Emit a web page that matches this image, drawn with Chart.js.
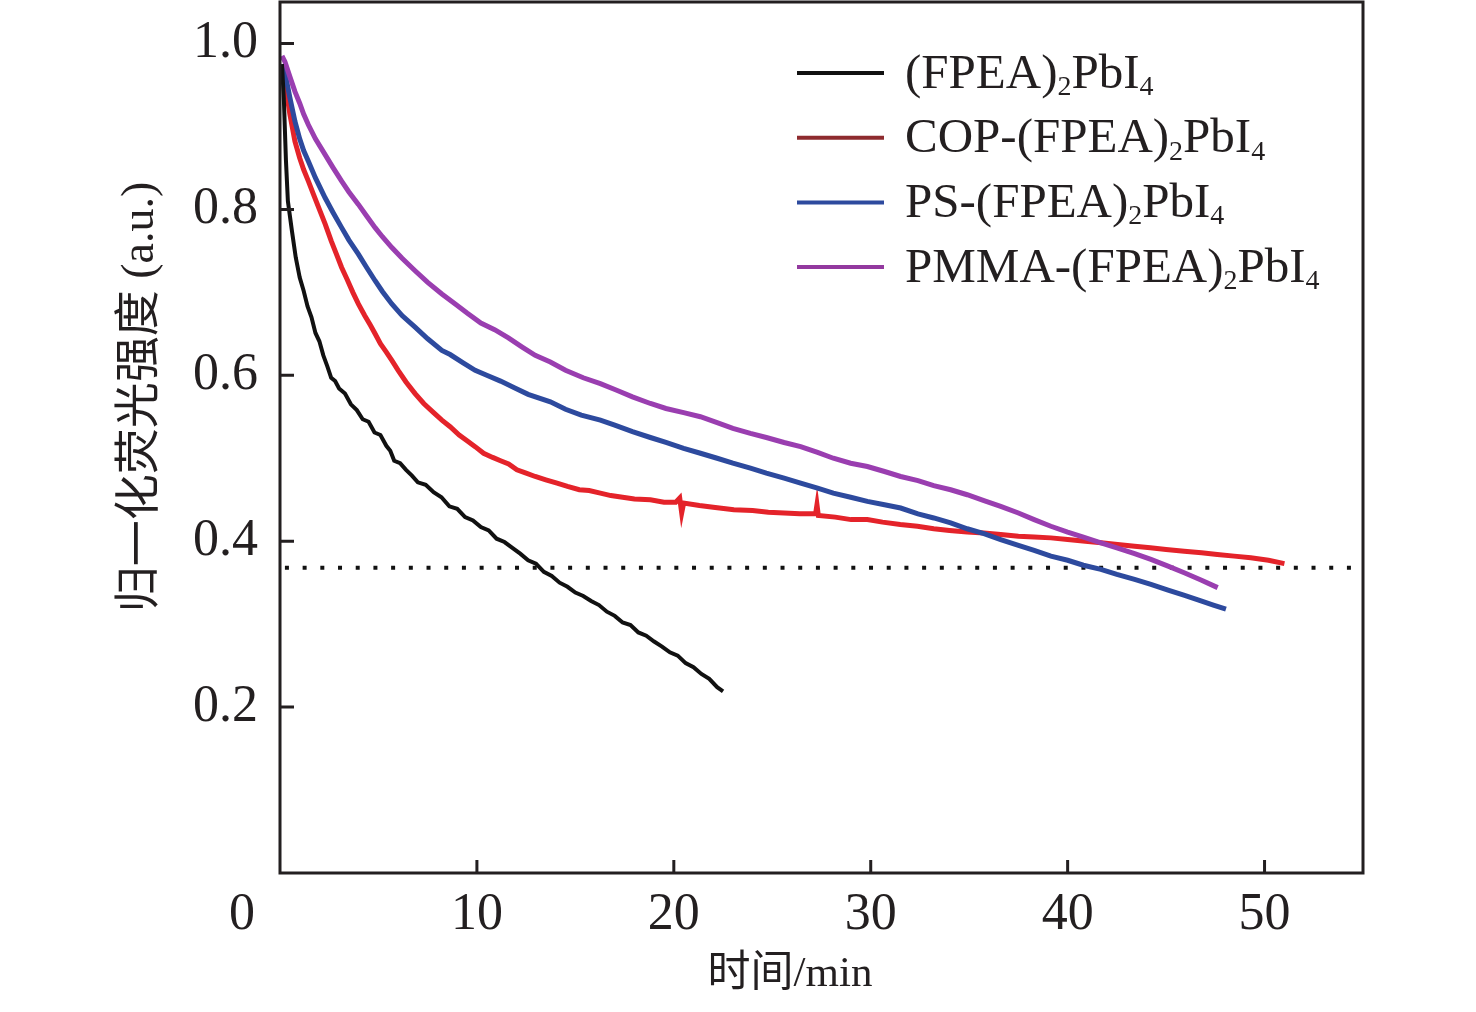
<!DOCTYPE html>
<html>
<head>
<meta charset="utf-8">
<script src="https://cdn.jsdelivr.net/npm/chart.js@4.4.1/dist/chart.umd.min.js"></script>
<style>
  html, body { margin: 0; padding: 0; background: #fff; }
  #wrap { width: 1476px; height: 1012px; }
</style>
</head>
<body>
<div id="wrap"><canvas id="chart"></canvas></div>
<script>
// time (min), normalized PL intensity
const seriesNames = ['(FPEA)_2PbI_4', 'COP-(FPEA)_2PbI_4', 'PS-(FPEA)_2PbI_4', 'PMMA-(FPEA)_2PbI_4'];

const blackPts = [
  [0.1,0.975],[0.2,0.93],[0.3,0.86],[0.4,0.81],[0.6,0.775],[0.8,0.742],[1.0,0.718],[1.2,0.702],
  [1.4,0.683],[1.6,0.670],[1.8,0.651],[2.0,0.641],[2.2,0.624],[2.4,0.611],[2.6,0.597],[2.8,0.593],
  [3.0,0.584],[3.3,0.578],[3.6,0.565],[3.9,0.558],[4.2,0.547],[4.5,0.544],[4.8,0.531],[5.1,0.528],
  [5.4,0.515],[5.6,0.509],[5.8,0.497],[6.1,0.494],[6.4,0.486],[6.7,0.479],[7.0,0.471],[7.4,0.468],
  [7.8,0.459],[8.2,0.453],[8.6,0.442],[9.0,0.439],[9.4,0.429],[9.8,0.425],[10.2,0.417],[10.6,0.413],
  [11.0,0.403],[11.4,0.399],[11.8,0.392],[12.2,0.385],[12.6,0.377],[13.0,0.373],[13.4,0.363],[13.8,0.358],
  [14.2,0.350],[14.6,0.345],[15.0,0.338],[15.4,0.334],[15.8,0.328],[16.2,0.323],[16.6,0.315],[17.0,0.310],
  [17.4,0.302],[17.8,0.299],[18.2,0.290],[18.6,0.286],[19.0,0.279],[19.4,0.273],[19.8,0.266],[20.2,0.262],
  [20.6,0.253],[21.0,0.248],[21.4,0.240],[21.8,0.234],[22.2,0.224],[22.5,0.219]
];

const copPts = [
  [0.1,0.97],[0.25,0.955],[0.5,0.915],[0.76,0.882],[1.0,0.862],[1.2,0.848],[1.44,0.834],[1.7,0.818],
  [2.0,0.800],[2.3,0.782],[2.6,0.762],[2.9,0.744],[3.13,0.730],[3.4,0.716],[3.7,0.700],[3.98,0.686],
  [4.3,0.672],[4.6,0.660],[4.83,0.650],[5.1,0.638],[5.4,0.628],[5.68,0.618],[6.0,0.606],[6.4,0.592],
  [6.86,0.578],[7.3,0.566],[7.8,0.555],[8.22,0.546],[8.64,0.538],[9.1,0.528],[9.5,0.521],[9.91,0.514],
  [10.34,0.506],[10.8,0.501],[11.2,0.497],[11.61,0.493],[12.03,0.486],[12.5,0.482],[12.96,0.478],[13.5,0.474],
  [14.07,0.470],[14.6,0.466],[15.2,0.462],[15.7,0.461],[16.27,0.458],[16.8,0.455],[17.4,0.453],[18.0,0.451],
  [18.81,0.450],[19.5,0.447],[20.1,0.447],[20.3,0.452],[20.4,0.434],[20.5,0.446],[21.3,0.443],[22.0,0.441],
  [23.05,0.438],[24.0,0.437],[24.8,0.435],[25.6,0.434],[26.4,0.433],[27.2,0.433],[27.27,0.444],[27.34,0.431],
  [28.2,0.429],[29.0,0.426],[29.83,0.426],[30.6,0.423],[31.5,0.420],[32.37,0.418],
  [33.2,0.415],[34.0,0.413],[34.9,0.411],[35.75,0.410],[36.6,0.408],[37.5,0.406],[38.3,0.405],
  [39.15,0.404],[40.0,0.402],[40.9,0.400],[41.7,0.398],[42.54,0.396],[43.4,0.394],[44.2,0.392],[45.0,0.390],
  [45.92,0.388],[46.8,0.386],[47.6,0.384],[48.46,0.382],[49.3,0.380],[50.2,0.377],[51.01,0.373]
];

const psPts = [
  [0.1,0.975],[0.25,0.965],[0.5,0.935],[0.76,0.906],[1.0,0.885],[1.2,0.871],[1.44,0.858],[1.8,0.838],
  [2.29,0.814],[2.7,0.796],[3.13,0.778],[3.5,0.763],[3.98,0.746],[4.4,0.730],[4.83,0.714],[5.2,0.701],
  [5.68,0.686],[6.2,0.672],[6.86,0.658],[7.5,0.644],[8.22,0.630],[8.64,0.625],[9.3,0.615],[9.91,0.606],
  [10.5,0.600],[11.2,0.593],[11.9,0.585],[12.6,0.577],[13.73,0.568],[14.5,0.559],[15.3,0.552],[16.27,0.546],
  [17.0,0.540],[17.9,0.532],[18.81,0.525],[19.6,0.519],[20.5,0.512],[21.35,0.506],[22.2,0.500],[23.0,0.494],
  [23.89,0.488],[24.7,0.482],[25.6,0.476],[26.44,0.470],[27.3,0.464],[28.1,0.458],[28.98,0.453],[29.83,0.448],
  [30.7,0.444],[31.52,0.440],[32.4,0.433],[33.2,0.428],[34.06,0.422],[34.9,0.415],[35.75,0.409],[36.6,0.402],
  [37.5,0.395],[38.3,0.389],[39.15,0.382],[40.0,0.377],[40.8,0.371],[41.69,0.366],[42.5,0.360],[43.4,0.354],
  [44.23,0.348],[45.1,0.341],[45.9,0.335],[46.77,0.328],[47.4,0.323],[48.04,0.318]
];

const pmmaPts = [
  [0.1,0.985],[0.25,0.978],[0.5,0.960],[0.76,0.942],[1.0,0.928],[1.2,0.915],[1.44,0.902],[1.8,0.885],
  [2.29,0.866],[2.7,0.850],[3.13,0.834],[3.5,0.821],[3.98,0.806],[4.4,0.792],[4.83,0.778],[5.2,0.767],
  [5.68,0.754],[6.2,0.741],[6.86,0.726],[7.5,0.712],[8.22,0.698],[8.9,0.686],[9.5,0.675],[10.2,0.663],
  [10.9,0.655],[11.6,0.645],[12.3,0.634],[12.96,0.624],[13.73,0.616],[14.5,0.606],[15.4,0.597],[16.27,0.590],
  [17.1,0.582],[17.9,0.574],[18.81,0.566],[19.6,0.560],[20.5,0.555],[21.35,0.550],[22.2,0.543],[23.0,0.536],
  [23.89,0.530],[24.7,0.525],[25.6,0.519],[26.44,0.514],[27.3,0.507],[28.1,0.500],[28.98,0.494],[29.83,0.490],
  [30.7,0.484],[31.52,0.478],[32.4,0.473],[33.2,0.467],[34.06,0.462],[34.9,0.456],[35.75,0.449],[36.6,0.442],
  [37.5,0.434],[38.3,0.426],[39.15,0.418],[40.0,0.411],[40.8,0.405],[41.69,0.398],[42.5,0.392],[43.4,0.385],
  [44.23,0.378],[45.1,0.370],[45.92,0.362],[46.8,0.353],[47.62,0.344]
];

// 1/e reference line
const refPts = [[0.25, 0.368], [54.6, 0.368]];

const xTicks = [10, 20, 30, 40, 50];
const yTicks = [0.2, 0.4, 0.6, 0.8, 1.0];
const xTitle = '时间/min';
const yTitle = '归一化荧光强度 (a.u.)';

const lineColors = ['#111111', '#e4232a', '#2d4a9e', '#9a3eb0'];
const legendColors = ['#111111', '#8e2b2e', '#2d4a9e', '#93399f'];
const FONT = "'Liberation Serif', 'Times New Roman', 'Noto Sans CJK SC', serif";
const INK = '#231f20';

const toXY = pts => pts.map(p => ({ x: p[0], y: p[1] }));

// frame, inward ticks, titles, legend with subscripts
const decorPlugin = {
  id: 'decor',
  afterDraw(chart) {
    const { ctx, chartArea: a, scales } = chart;
    ctx.save();
    ctx.strokeStyle = INK;
    ctx.lineWidth = 3;
    ctx.strokeRect(a.left, a.top, a.right - a.left, a.bottom - a.top);

    ctx.beginPath();
    xTicks.forEach(v => {
      const px = scales.x.getPixelForValue(v);
      ctx.moveTo(px, a.bottom);
      ctx.lineTo(px, a.bottom - 13);
    });
    yTicks.forEach(v => {
      const py = scales.y.getPixelForValue(v);
      ctx.moveTo(a.left, py);
      ctx.lineTo(a.left + 14, py);
    });
    ctx.stroke();

    ctx.fillStyle = INK;
    ctx.textBaseline = 'middle';
    ctx.textAlign = 'center';
    ctx.font = '52px ' + FONT;
    ctx.fillText('0', a.left - 38, a.bottom + 42.5);

    ctx.font = '43px ' + FONT;
    ctx.fillText(xTitle, 790, 975);

    ctx.save();
    ctx.translate(141, 397);
    ctx.rotate(-Math.PI / 2);
    ctx.font = '46px ' + FONT;
    ctx.fillText(yTitle, 0, 0);
    ctx.restore();

    // legend
    ctx.textAlign = 'left';
    ctx.textBaseline = 'alphabetic';
    seriesNames.forEach((name, i) => {
      const y = 73 + i * 64.7;
      ctx.strokeStyle = legendColors[i];
      ctx.lineWidth = 4;
      ctx.beginPath();
      ctx.moveTo(797, y);
      ctx.lineTo(884, y);
      ctx.stroke();
      let x = 905;
      name.split(/(_\d)/).forEach(part => {
        if (!part) return;
        if (part[0] === '_') {
          ctx.font = '28px ' + FONT;
          ctx.fillText(part.slice(1), x, y + 22);
          x += ctx.measureText(part.slice(1)).width;
        } else {
          ctx.font = '49px ' + FONT;
          ctx.fillText(part, x, y + 14.5);
          x += ctx.measureText(part).width;
        }
      });
    });
    ctx.restore();
  }
};

const curves = [blackPts, copPts, psPts, pmmaPts];
const datasets = curves.map((pts, i) => ({
  label: seriesNames[i],
  data: toXY(pts),
  borderColor: lineColors[i],
  borderWidth: i === 0 ? 4 : 5,
  pointRadius: 0,
  tension: 0,
  order: [1, 4, 3, 2][i]
}));
datasets.push({
  label: '1/e',
  data: toXY(refPts),
  borderColor: '#111111',
  borderWidth: 4,
  borderDash: [4, 13.7],
  borderCapStyle: 'butt',
  pointRadius: 0,
  order: 5
});

new Chart(document.getElementById('chart').getContext('2d'), {
  type: 'line',
  data: { datasets },
  options: {
    responsive: true,
    maintainAspectRatio: false,
    animation: false,
    layout: { padding: { left: 0, right: 113, top: 2, bottom: 0 } },
    plugins: { legend: { display: false }, tooltip: { enabled: false } },
    scales: {
      x: {
        type: 'linear',
        min: 0,
        max: 55,
        afterBuildTicks: s => { s.ticks = xTicks.map(v => ({ value: v })); },
        afterFit: s => { s.height = 139; s.paddingLeft = 0; s.paddingRight = 0; },
        grid: { display: false, drawTicks: false },
        border: { display: false },
        ticks: { font: { family: FONT, size: 52 }, color: INK, padding: 11, maxRotation: 0, autoSkip: false }
      },
      y: {
        type: 'linear',
        min: 0,
        max: 1.05,
        afterBuildTicks: s => { s.ticks = yTicks.map(v => ({ value: v })); },
        afterFit: s => { s.width = 280; s.paddingTop = 0; s.paddingBottom = 0; },
        grid: { display: false, drawTicks: false },
        border: { display: false },
        ticks: { font: { family: FONT, size: 52 }, color: INK, padding: 22, autoSkip: false,
                 callback: v => v.toFixed(1) }
      }
    }
  },
  plugins: [decorPlugin]
});
</script>
</body>
</html>
